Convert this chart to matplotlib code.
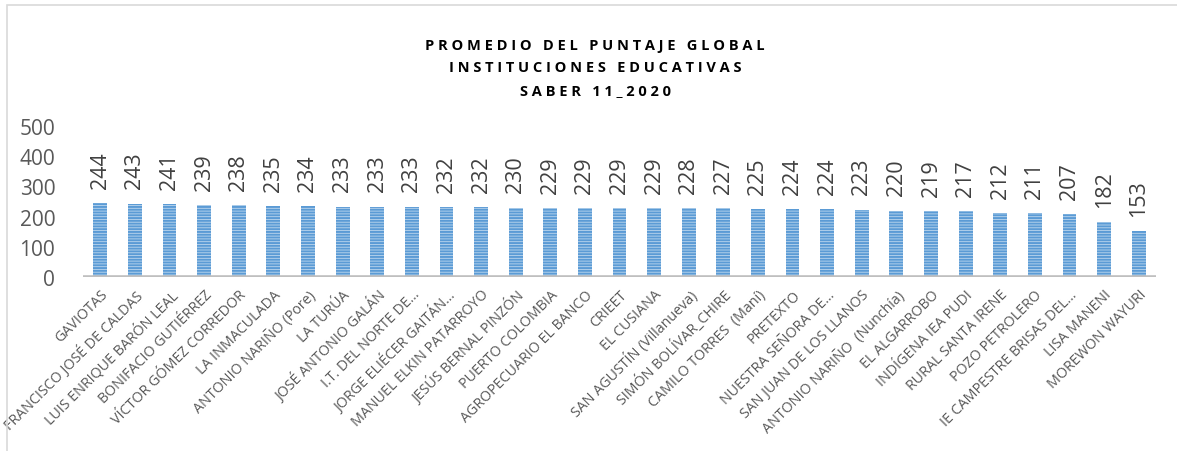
import matplotlib
matplotlib.use("Agg")
from matplotlib import pyplot as plt
from matplotlib.patches import Rectangle
import numpy as np

# institutions and their mean global score (Saber 11, 2020)
instituciones = [
    "GAVIOTAS", "FRANCISCO JOSÉ DE CALDAS", "LUIS ENRIQUE BARÓN LEAL",
    "BONIFACIO GUTIÉRREZ", "VÍCTOR GÓMEZ CORREDOR", "LA INMACULADA",
    "ANTONIO NARIÑO (Pore)", "LA TURÚA", "JOSÉ ANTONIO GALÁN",
    "I.T. DEL NORTE DE...", "JORGE ELIÉCER GAITÁN...", "MANUEL ELKIN PATARROYO",
    "JESÚS BERNAL PINZÓN", "PUERTO COLOMBIA", "AGROPECUARIO EL BANCO",
    "CRIEET", "EL CUSIANA", "SAN AGUSTÍN (Villanueva)", "SIMÓN BOLÍVAR_CHIRE",
    "CAMILO TORRES  (Maní)", "PRETEXTO", "NUESTRA SEÑORA DE...",
    "SAN JUAN DE LOS LLANOS", "ANTONIO NARIÑO  (Nunchía)", "EL ALGARROBO",
    "INDÍGENA IEA PUDI", "RURAL SANTA IRENE", "POZO PETROLERO",
    "IE CAMPESTRE BRISAS DEL...", "LISA MANENI", "MOREWON WAYURI",
]
puntajes = [244, 243, 241, 239, 238, 235, 234, 233, 233, 233, 232, 232, 230,
            229, 229, 229, 229, 228, 227, 225, 224, 224, 223, 220, 219, 217,
            212, 211, 207, 182, 153]
yticks = [0, 100, 200, 300, 400, 500]
titulo = ["PROMEDIO DEL PUNTAJE GLOBAL", "INSTITUCIONES EDUCATIVAS", "SABER 11_2020"]


def espaciar(txt):
    # fake letter spacing like the excel title
    return "   ".join(" ".join(w) for w in txt.split(" "))


plt.rcParams['font.family'] = ['Open Sans', 'DejaVu Sans']
plt.rcParams['hatch.linewidth'] = 1.4

W, H = 1177, 452
fig = plt.figure(figsize=(W / 100, H / 100), dpi=100)
ax = fig.add_axes([83 / W, 1 - 278 / H, (1156 - 83) / W, (278 - 127) / H])

x = np.arange(len(instituciones))
bars = ax.bar(x, puntajes, width=0.4, color="#bdd7ee", edgecolor="#5b9bd5",
              hatch="------", linewidth=0, zorder=2)

for xi, v in zip(x, puntajes):
    ax.annotate(str(v), (xi, v), xytext=(0, 11), textcoords="offset points",
                rotation=90, ha="center", va="bottom", fontsize=15.5,
                color="#404040")

ax.axhline(0, color="#bfbfbf", lw=2.6, zorder=3)
ax.set_xlim(-0.5, len(instituciones) - 0.5)
ax.set_ylim(0, 500)
ax.set_yticks(yticks)
ax.set_yticklabels([str(t) for t in yticks], fontsize=15, color="#595959")
ax.set_xticks(x)
ax.set_xticklabels(instituciones, rotation=45, ha="right",
                   rotation_mode="anchor", fontsize=10.3, color="#595959")
ax.tick_params(axis="y", length=0, pad=20)
ax.tick_params(axis="x", length=0, pad=7)
for s in ax.spines.values():
    s.set_visible(False)

ys = [46, 68, 91]
for t, yy in zip(titulo, ys):
    fig.text(595 / W, 1 - yy / H, espaciar(t), ha="center", va="center",
             fontsize=10.5, fontweight="bold", color="#000000")

# chart border
fig.patches.append(Rectangle((7 / W, -0.1), 1.2, 1 - 5.5 / H + 0.1,
                             transform=fig.transFigure, fill=False,
                             edgecolor="#d9d9d9", lw=1.2))

fig.savefig("out.png", dpi=100)
